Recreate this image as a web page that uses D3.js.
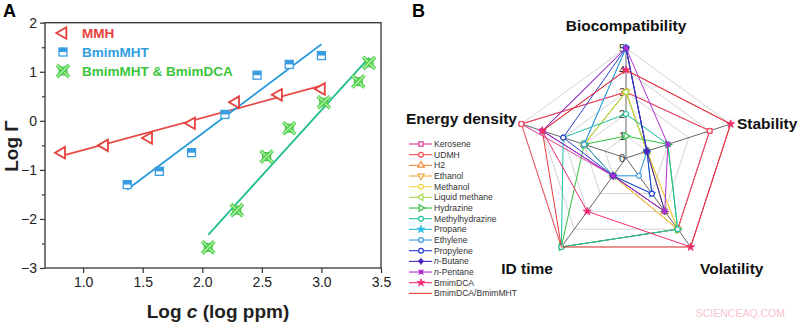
<!DOCTYPE html>
<html>
<head>
<meta charset="utf-8">
<script src="https://cdn.jsdelivr.net/npm/d3@7"></script>
<style>
  body { margin: 0; background: #fff; }
  text { font-family: "Liberation Sans", Arial, sans-serif; }
</style>
</head>
<body>
<svg id="chart" width="800" height="323"></svg>
<script>
// ---- panel A data ----
var mmhX = [0.82, 1.18, 1.55, 1.91, 2.28, 2.64, 3.0];
var mmhY = [-0.65, -0.5, -0.35, -0.05, 0.38, 0.53, 0.65];
var mhtX = [1.37, 1.64, 1.91, 2.19, 2.46, 2.73, 3.0];
var mhtY = [-1.3, -1.03, -0.65, 0.13, 0.93, 1.15, 1.33];
var mixX = [2.05, 2.29, 2.54, 2.73, 3.02, 3.31, 3.40];
var mixY = [-2.58, -1.82, -0.73, -0.15, 0.38, 0.8, 1.18];
var seriesNames = ['MMH', 'BmimMHT', 'BmimMHT & BmimDCA'];
var xTicks = [1.0, 1.5, 2.0, 2.5, 3.0, 3.5];
var yTicks = [-3, -2, -1, 0, 1, 2];

// ---- panel B data ----
var radarAxes = ['Biocompatibility', 'Stability', 'Volatility', 'ID time', 'Energy density'];
var radarLevels = [0, 1, 2, 3, 4, 5];
var fuels = ['Kerosene', 'UDMH', 'H2', 'Ethanol', 'Methanol', 'Liquid methane', 'Hydrazine',
  'Methylhydrazine', 'Propane', 'Ethylene', 'Propylene', 'n-Butane', 'n-Pentane', 'BmimDCA',
  'BmimDCA/BmimMHT'];
// values per fuel, in radarAxes order
var fuelValues = [
  [3, 4, 4, 1, 5],
  [3, 4, 4, 5, 5],
  [3, 1, 3, 1, 2],
  [3, 1, 4, 1, 2],
  [3, 1, 4, 1, 2],
  [3, 1, 3, 1, 2],
  [1, 2, 4, 5, 2],
  [2, 2, 4, 5, 3],
  [5, 1, 2, 1, 2],
  [5, 1, 1, 1, 2],
  [5, 1, 2, 1, 3],
  [5, 1, 3, 1, 4],
  [5, 2, 3, 1, 4],
  [4, 5, 5, 3, 4],
  [4, 5, 5, 5, 4]
];

// styles
var fuelColors = ['#de3a98', '#ee5058', '#ee8a3c', '#eea83c', '#f0d640', '#a6d84a', '#2fc040',
  '#1fc0a0', '#2cbce0', '#3a9ce0', '#2a3cc8', '#4a22b8', '#b030d0', '#f02a74', '#e23a3a'];
var fuelShapes = ['square', 'circle', 'triUp', 'triDown', 'circle', 'triLeft', 'triRight',
  'circle', 'star', 'circle', 'circle', 'plus', 'times', 'asterisk', 'none'];

var svg = d3.select('#chart');

// ================= panel A =================
var x = d3.scaleLinear().domain([0.68, 3.5]).range([45, 381]);
var y = d3.scaleLinear().domain([-3, 2]).range([268, 22.7]);

var gA = svg.append('g');

gA.append('text').attr('x', 3).attr('y', 17)
  .attr('font-size', 18).attr('font-weight', 'bold').text('A');

// frame
gA.append('rect')
  .attr('x', x.range()[0]).attr('y', y.range()[1])
  .attr('width', x.range()[1] - x.range()[0])
  .attr('height', y.range()[0] - y.range()[1])
  .attr('fill', 'none').attr('stroke', '#333').attr('stroke-width', 1.3);

// axes
var xAxis = d3.axisBottom(x).tickValues(xTicks).tickFormat(d3.format('.1f'))
  .tickSize(5).tickPadding(4);
var yAxis = d3.axisLeft(y).tickValues(yTicks).tickFormat(function(d) { return d < 0 ? '\u2212' + (-d) : d; })
  .tickSize(5).tickPadding(3);
var yMinor = d3.axisLeft(y).tickValues([-2.5, -1.5, -0.5, 0.5, 1.5]).tickFormat('').tickSize(3);

gA.append('g').attr('transform', 'translate(0,' + y.range()[0] + ')').call(xAxis);
gA.append('g').attr('transform', 'translate(' + x.range()[0] + ',0)').call(yAxis);
gA.append('g').attr('transform', 'translate(' + x.range()[0] + ',0)').call(yMinor);
gA.selectAll('.domain').remove();
gA.selectAll('.tick line').attr('stroke', '#333').attr('stroke-width', 1.2);
gA.selectAll('.tick text').attr('font-size', 14).attr('fill', '#222')
  .attr('font-family', '"Liberation Sans", Arial, sans-serif');

// axis titles
var xt = gA.append('text').attr('x', 218).attr('y', 318).attr('text-anchor', 'middle')
  .attr('font-size', 19).attr('font-weight', 'bold').attr('fill', '#222');
xt.append('tspan').text('Log ');
xt.append('tspan').attr('font-style', 'italic').text('c');
xt.append('tspan').text(' (log ppm)');

gA.append('text').attr('transform', 'translate(18,146) rotate(-90)')
  .attr('text-anchor', 'middle').attr('font-size', 19).attr('font-weight', 'bold')
  .attr('fill', '#222').text('Log \u0393');

// least squares fit line
function fit(xs, ys) {
  var mx = d3.mean(xs), my = d3.mean(ys);
  var sxy = d3.sum(xs, function(v, i) { return (v - mx) * (ys[i] - my); });
  var sxx = d3.sum(xs, function(v) { return (v - mx) * (v - mx); });
  var k = sxy / sxx;
  var x0 = d3.min(xs), x1 = d3.max(xs);
  return [[x0, my + k * (x0 - mx)], [x1, my + k * (x1 - mx)]];
}

var line = d3.line().x(function(d) { return x(d[0]); }).y(function(d) { return y(d[1]); });

gA.append('path').datum(fit(mmhX, mmhY)).attr('d', line)
  .attr('stroke', '#e84a48').attr('stroke-width', 1.8).attr('fill', 'none');
gA.append('path').datum(fit(mhtX, mhtY)).attr('d', line)
  .attr('stroke', '#2a9ad8').attr('stroke-width', 1.8).attr('fill', 'none');
gA.append('path').datum(fit(mixX, mixY)).attr('d', line)
  .attr('stroke', '#20bf8c').attr('stroke-width', 1.8).attr('fill', 'none');

// marker drawers
var triPath = d3.symbol().type(d3.symbolTriangle).size(58)();
function drawTri(g, px, py) {
  g.append('path').attr('d', triPath)
    .attr('transform', 'translate(' + px + ',' + py + ') rotate(-90)')
    .attr('fill', '#fff').attr('stroke', '#e8403c').attr('stroke-width', 1.8);
}
function drawSq(g, px, py) {
  g.append('rect').attr('x', -4).attr('y', -4).attr('width', 8).attr('height', 8)
    .attr('transform', 'translate(' + px + ',' + py + ')')
    .attr('fill', '#fff').attr('stroke', '#3a9ce0').attr('stroke-width', 1.3);
  g.append('rect').attr('x', -4).attr('y', -4).attr('width', 8).attr('height', 4)
    .attr('transform', 'translate(' + px + ',' + py + ')')
    .attr('fill', '#3a9ce0');
}
function drawX(g, px, py) {
  var s = 6;
  var cg = g.append('g').attr('transform', 'translate(' + px + ',' + py + ')');
  cg.append('rect').attr('x', -4).attr('y', -4).attr('width', 8).attr('height', 8)
    .attr('fill', '#9cf08c').attr('stroke', '#3cc03c').attr('stroke-width', 1);
  [[-s, -s, s, s], [-s, s, s, -s]].forEach(function(l) {
    cg.append('line').attr('x1', l[0]).attr('y1', l[1]).attr('x2', l[2]).attr('y2', l[3])
      .attr('stroke', '#44c444').attr('stroke-width', 3.6);
    cg.append('line').attr('x1', l[0]).attr('y1', l[1]).attr('x2', l[2]).attr('y2', l[3])
      .attr('stroke', '#a8f49c').attr('stroke-width', 1.6);
  });
}

mmhX.forEach(function(v, i) { drawTri(gA, x(v), y(mmhY[i])); });
mhtX.forEach(function(v, i) { drawSq(gA, x(v), y(mhtY[i])); });
mixX.forEach(function(v, i) { drawX(gA, x(v), y(mixY[i])); });

// legend A
var legColors = ['#e8403c', '#2f9fe0', '#3cc43c'];
var legDraw = [drawTri, drawSq, drawX];
seriesNames.forEach(function(name, i) {
  var ly = 33 + i * 19;
  legDraw[i](gA, 63, ly);
  gA.append('text').attr('x', 82).attr('y', ly + 5)
    .attr('font-size', 13.5).attr('font-weight', 'bold').attr('fill', legColors[i]).text(name);
});

// ================= panel B =================
var cx = 626, cy = 158;
var r = d3.scaleLinear().domain([0, 5]).range([0, 110]);
var gB = svg.append('g');

gB.append('text').attr('x', 412).attr('y', 17)
  .attr('font-size', 18).attr('font-weight', 'bold').text('B');

function angle(i) { return (90 - 72 * i) * Math.PI / 180; }
function pt(i, v) {
  return [cx + r(v) * Math.cos(angle(i)), cy - r(v) * Math.sin(angle(i))];
}

// grid pentagons
radarLevels.slice(1).forEach(function(lv) {
  var pts = radarAxes.map(function(a, i) { return pt(i, lv); });
  gB.append('path').attr('d', 'M' + pts.join('L') + 'Z')
    .attr('fill', 'none').attr('stroke', '#d4d4d4').attr('stroke-width', 1);
});
// spokes
radarAxes.forEach(function(a, i) {
  var p = pt(i, 5);
  gB.append('line').attr('x1', cx).attr('y1', cy).attr('x2', p[0]).attr('y2', p[1])
    .attr('stroke', '#555').attr('stroke-width', 0.9);
});
// level labels
radarLevels.forEach(function(lv) {
  gB.append('text').attr('x', cx - 1).attr('y', cy - r(lv) + 4)
    .attr('text-anchor', 'end').attr('font-size', 11).attr('fill', '#333').text(lv);
});

// axis labels
var axLabelPos = [
  { x: 626, y: 31, anchor: 'middle' },
  { x: 737, y: 129, anchor: 'start' },
  { x: 700, y: 274, anchor: 'start' },
  { x: 553, y: 274, anchor: 'end' },
  { x: 517, y: 124, anchor: 'end' }
];
radarAxes.forEach(function(a, i) {
  gB.append('text').attr('x', axLabelPos[i].x).attr('y', axLabelPos[i].y)
    .attr('text-anchor', axLabelPos[i].anchor)
    .attr('font-size', 15.5).attr('font-weight', 'bold').attr('fill', '#111').text(a);
});

function symbolType(shape) {
  var map = {
    square: d3.symbolSquare, circle: d3.symbolCircle, triUp: d3.symbolTriangle,
    triDown: d3.symbolTriangle, triLeft: d3.symbolTriangle, triRight: d3.symbolTriangle,
    star: d3.symbolStar, plus: d3.symbolPlus || d3.symbolCross,
    times: d3.symbolTimes || d3.symbolCross, asterisk: d3.symbolStar
  };
  return map[shape];
}
var rot = { triDown: 180, triLeft: -90, triRight: 90, times: 0 };

function drawMarker(g, shape, color, px, py, size) {
  if (shape === 'none') return;
  var p = d3.symbol().type(symbolType(shape)).size(size)();
  var t = 'translate(' + px + ',' + py + ') rotate(' + (rot[shape] || 0) + ')';
  if (shape === 'plus' || shape === 'times') {
    g.append('circle').attr('cx', px).attr('cy', py).attr('r', 2.3).attr('fill', color);
    g.append('path').attr('d', p).attr('transform', t).attr('fill', 'none')
      .attr('stroke', color).attr('stroke-width', 1.1);
  } else if (shape === 'asterisk' || shape === 'star') {
    g.append('path').attr('d', p).attr('transform', t).attr('fill', color)
      .attr('stroke', color).attr('stroke-width', 0.8);
  } else {
    g.append('path').attr('d', p).attr('transform', t).attr('fill', '#fff')
      .attr('stroke', color).attr('stroke-width', 1.2);
  }
}

// series
fuels.forEach(function(f, k) {
  var pts = fuelValues[k].map(function(v, i) { return pt(i, v); });
  gB.append('path').attr('d', 'M' + pts.join('L') + 'Z')
    .attr('fill', 'none').attr('stroke', fuelColors[k]).attr('stroke-width', 1);
  pts.forEach(function(p) {
    drawMarker(gB, fuelShapes[k], fuelColors[k], p[0], p[1], 20);
  });
});

// legend B
fuels.forEach(function(f, k) {
  var ly = 144 + k * 10.67;
  gB.append('line').attr('x1', 409).attr('x2', 432).attr('y1', ly).attr('y2', ly)
    .attr('stroke', fuelColors[k]).attr('stroke-width', 1.1);
  drawMarker(gB, fuelShapes[k], fuelColors[k], 421, ly, 18);
  var t = gB.append('text').attr('x', 434).attr('y', ly + 3)
    .attr('font-size', 8.6).attr('fill', '#333');
  if (f.indexOf('n-') === 0) {
    t.append('tspan').attr('font-style', 'italic').text('n');
    t.append('tspan').text(f.slice(1));
  } else {
    t.text(f);
  }
});

// watermark
svg.append('text').attr('x', 785).attr('y', 317).attr('text-anchor', 'end')
  .attr('font-size', 10.5).attr('fill', '#f6c4cc').text('SCIENCEAQ.COM');
</script>
</body>
</html>
